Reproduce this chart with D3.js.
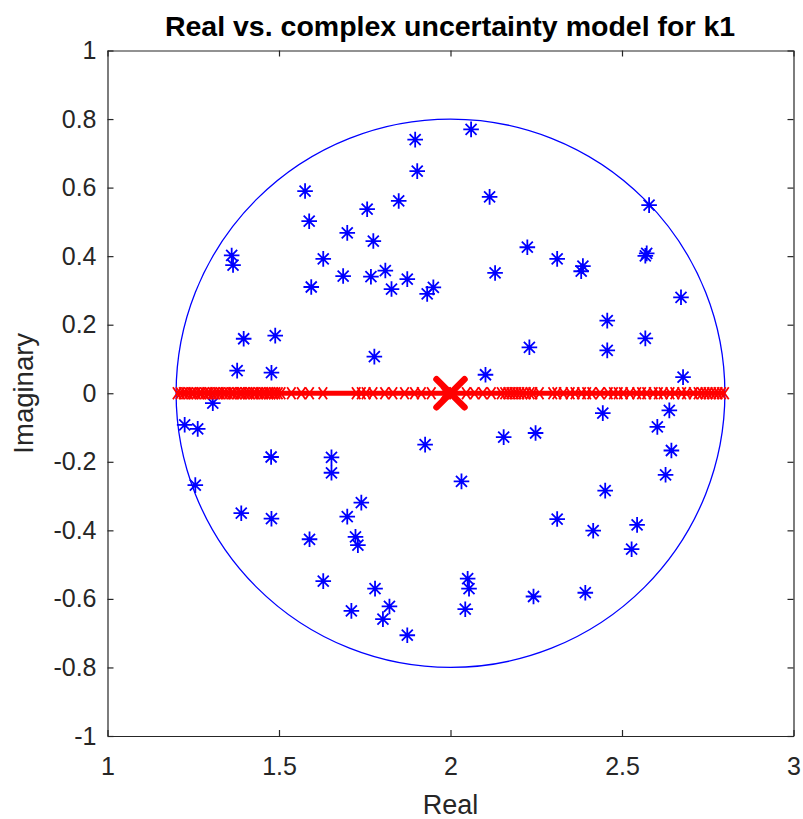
<!DOCTYPE html>
<html>
<head>
<meta charset="utf-8">
<script src="https://cdn.jsdelivr.net/npm/d3@7/dist/d3.min.js"></script>
<style>
  html, body { margin: 0; padding: 0; background: #fff; }
  svg { display: block; }
</style>
</head>
<body>
<script>
// ---- Data ----
const title = "Real vs. complex uncertainty model for k1";
const xLabel = "Real";
const yLabel = "Imaginary";
const xTicks = [1, 1.5, 2, 2.5, 3];
const yTicks = [-1, -0.8, -0.6, -0.4, -0.2, 0, 0.2, 0.4, 0.6, 0.8, 1];

// Nominal value and disk (complex uncertainty) radius
const nominal = [2, 0];
const diskRadius = 0.8;

// Complex samples (blue stars): real parts and imaginary parts
const complexRe = [1.897, 1.903, 1.576, 1.849, 1.757, 1.588, 1.699, 1.775, 1.362, 1.366,
  1.629, 1.687, 1.768, 1.810, 1.828, 1.874, 1.594, 1.932, 1.950, 1.397,
  1.489, 1.378, 1.478, 1.778,
  2.060, 2.114, 2.579, 2.224, 2.311, 2.386, 2.381, 2.572, 2.568, 2.130,
  2.672, 2.457, 2.568, 2.457, 2.230, 2.102, 2.678,
  1.307, 1.225, 1.263, 1.477, 1.653, 1.653, 1.926, 1.256, 1.390, 1.478,
  1.740, 1.699, 1.589, 1.723, 1.730, 1.629, 1.780, 1.711, 1.822, 1.803, 1.874,
  2.444, 2.638, 2.603, 2.644, 2.627, 2.155, 2.248, 2.032, 2.451, 2.311,
  2.416, 2.544, 2.528, 2.050, 2.054, 2.043, 2.242, 2.393];
const complexIm = [0.740, 0.648, 0.590, 0.561, 0.537, 0.502, 0.468, 0.444, 0.402, 0.374,
  0.392, 0.342, 0.340, 0.358, 0.304, 0.333, 0.310, 0.290, 0.309, 0.159,
  0.168, 0.066, 0.060, 0.107,
  0.770, 0.573, 0.549, 0.426, 0.392, 0.371, 0.356, 0.408, 0.401, 0.351,
  0.280, 0.212, 0.160, 0.125, 0.134, 0.054, 0.047,
  -0.029, -0.092, -0.104, -0.186, -0.187, -0.232, -0.150, -0.268, -0.350, -0.366,
  -0.319, -0.360, -0.426, -0.419, -0.443, -0.548, -0.570, -0.635, -0.622, -0.659, -0.706,
  -0.058, -0.050, -0.098, -0.167, -0.238, -0.128, -0.116, -0.257, -0.284, -0.367,
  -0.401, -0.384, -0.455, -0.541, -0.570, -0.630, -0.593, -0.582];

// Real samples (red x markers on the real axis)
const realSamples = [1.203, 1.212, 1.221, 1.228, 1.236, 1.245, 1.251, 1.259, 1.268, 1.274,
  1.283, 1.291, 1.297, 1.306, 1.314, 1.322, 1.329, 1.338, 1.345, 1.353,
  1.362, 1.368, 1.377, 1.386, 1.392, 1.401, 1.409, 1.416, 1.425, 1.431,
  1.440, 1.447, 1.455, 1.462, 1.470, 1.476, 1.484, 1.491, 1.498, 1.506,
  1.536, 1.565, 1.589, 1.628, 1.725, 1.740, 1.754, 1.774, 1.808, 1.832,
  1.866, 1.895, 1.915, 1.944, 1.985, 2.010, 2.046, 2.070, 2.094, 2.119,
  2.148, 2.158, 2.167, 2.176, 2.185, 2.193, 2.202, 2.211, 2.221, 2.232,
  2.240, 2.259, 2.298, 2.310, 2.329, 2.349, 2.363, 2.382, 2.397, 2.412,
  2.436, 2.460, 2.475, 2.489, 2.504, 2.523, 2.543, 2.557, 2.572, 2.591,
  2.606, 2.620, 2.640, 2.654, 2.674, 2.688, 2.708, 2.722, 2.732, 2.742,
  2.751, 2.761, 2.771, 2.780, 2.790, 2.799];
const realRange = [1.2, 2.8];

// ---- Layout ----
const W = 803, H = 819;
const L = 107.5, R = 793.5, T = 50.5, B = 736;
const axisColor = "#262626";
const fontFam = "'Liberation Sans', Arial, Helvetica, sans-serif";

const svg = d3.select("body").append("svg")
  .attr("width", W).attr("height", H)
  .style("background", "#fff");

const x = d3.scaleLinear().domain([1, 3]).range([L, R]);
const y = d3.scaleLinear().domain([-1, 1]).range([B, T]);

const fmt = d => String(+d.toFixed(1));

// Plot area clip
svg.append("defs").append("clipPath").attr("id", "clip")
  .append("rect").attr("x", L).attr("y", T).attr("width", R - L).attr("height", B - T);

const plot = svg.append("g").attr("clip-path", "url(#clip)");

// Disk boundary
plot.append("ellipse")
  .attr("cx", x(nominal[0])).attr("cy", y(nominal[1]))
  .attr("rx", x(nominal[0] + diskRadius) - x(nominal[0]))
  .attr("ry", y(nominal[1]) - y(nominal[1] + diskRadius))
  .attr("fill", "none").attr("stroke", "#0000ff").attr("stroke-width", 1.3);

// Blue star markers
const starR = 7.8, starD = 5.5;
const starPath = `M${-starR},0H${starR}M0,${-starR}V${starR}M${-starD},${-starD}L${starD},${starD}M${-starD},${starD}L${starD},${-starD}`;
plot.append("g").selectAll("path").data(complexRe.map((r, i) => [r, complexIm[i]]))
  .join("path")
  .attr("transform", d => `translate(${x(d[0])},${y(d[1])})`)
  .attr("d", starPath)
  .attr("fill", "none").attr("stroke", "#0000ff").attr("stroke-width", 1.8);

// Thick red line along real axis
plot.append("line")
  .attr("x1", x(realRange[0])).attr("x2", x(realRange[1]))
  .attr("y1", y(0)).attr("y2", y(0))
  .attr("stroke", "#ff0000").attr("stroke-width", 5);

// Red x markers
const xs = 6;
plot.append("g").selectAll("path").data(realSamples)
  .join("path")
  .attr("transform", d => `translate(${x(d)},${y(0)})`)
  .attr("d", `M${-xs * 0.7},${-xs}L${xs * 0.7},${xs}M${-xs * 0.7},${xs}L${xs * 0.7},${-xs}`)
  .attr("fill", "none").attr("stroke", "#ff0000").attr("stroke-width", 1.8);

// Big X at nominal
const bx = 14;
plot.append("path")
  .attr("transform", `translate(${x(nominal[0])},${y(nominal[1])})`)
  .attr("d", `M${-bx},${-bx}L${bx},${bx}M${-bx},${bx}L${bx},${-bx}`)
  .attr("fill", "none").attr("stroke", "#ff0000").attr("stroke-width", 6.5)
  .attr("stroke-linecap", "round");

// ---- Axes ----
function styleAxis(g) {
  g.selectAll(".domain").attr("stroke", axisColor).attr("stroke-width", 1.2);
  g.selectAll(".tick line").attr("stroke", axisColor).attr("stroke-width", 1.2);
  g.selectAll(".tick text").attr("fill", axisColor)
    .style("font-family", fontFam).style("font-size", "25px");
}

svg.append("g").attr("transform", `translate(0,${B})`)
  .call(d3.axisBottom(x).tickValues(xTicks).tickFormat(fmt).tickSizeInner(-6).tickSizeOuter(0).tickPadding(21))
  .call(styleAxis);
svg.append("g").attr("transform", `translate(0,${T})`)
  .call(d3.axisTop(x).tickValues(xTicks).tickFormat("").tickSizeInner(-6).tickSizeOuter(0))
  .call(styleAxis);
svg.append("g").attr("transform", `translate(${L},0)`)
  .call(d3.axisLeft(y).tickValues(yTicks).tickFormat(fmt).tickSizeInner(-6).tickSizeOuter(0).tickPadding(11))
  .call(styleAxis);
svg.append("g").attr("transform", `translate(${R},0)`)
  .call(d3.axisRight(y).tickValues(yTicks).tickFormat("").tickSizeInner(-6).tickSizeOuter(0))
  .call(styleAxis);

// ---- Labels ----
svg.append("text").text(title)
  .attr("x", 450).attr("y", 36)
  .attr("text-anchor", "middle")
  .style("font-family", fontFam).style("font-size", "28.5px").style("font-weight", "bold")
  .attr("fill", "#000");

svg.append("text").text(xLabel)
  .attr("x", (L + R) / 2).attr("y", 814)
  .attr("text-anchor", "middle")
  .style("font-family", fontFam).style("font-size", "27px")
  .attr("fill", axisColor);

svg.append("text").text(yLabel)
  .attr("transform", `translate(33,${(T + B) / 2}) rotate(-90)`)
  .attr("text-anchor", "middle")
  .style("font-family", fontFam).style("font-size", "27.5px")
  .attr("fill", axisColor);
</script>
</body>
</html>
